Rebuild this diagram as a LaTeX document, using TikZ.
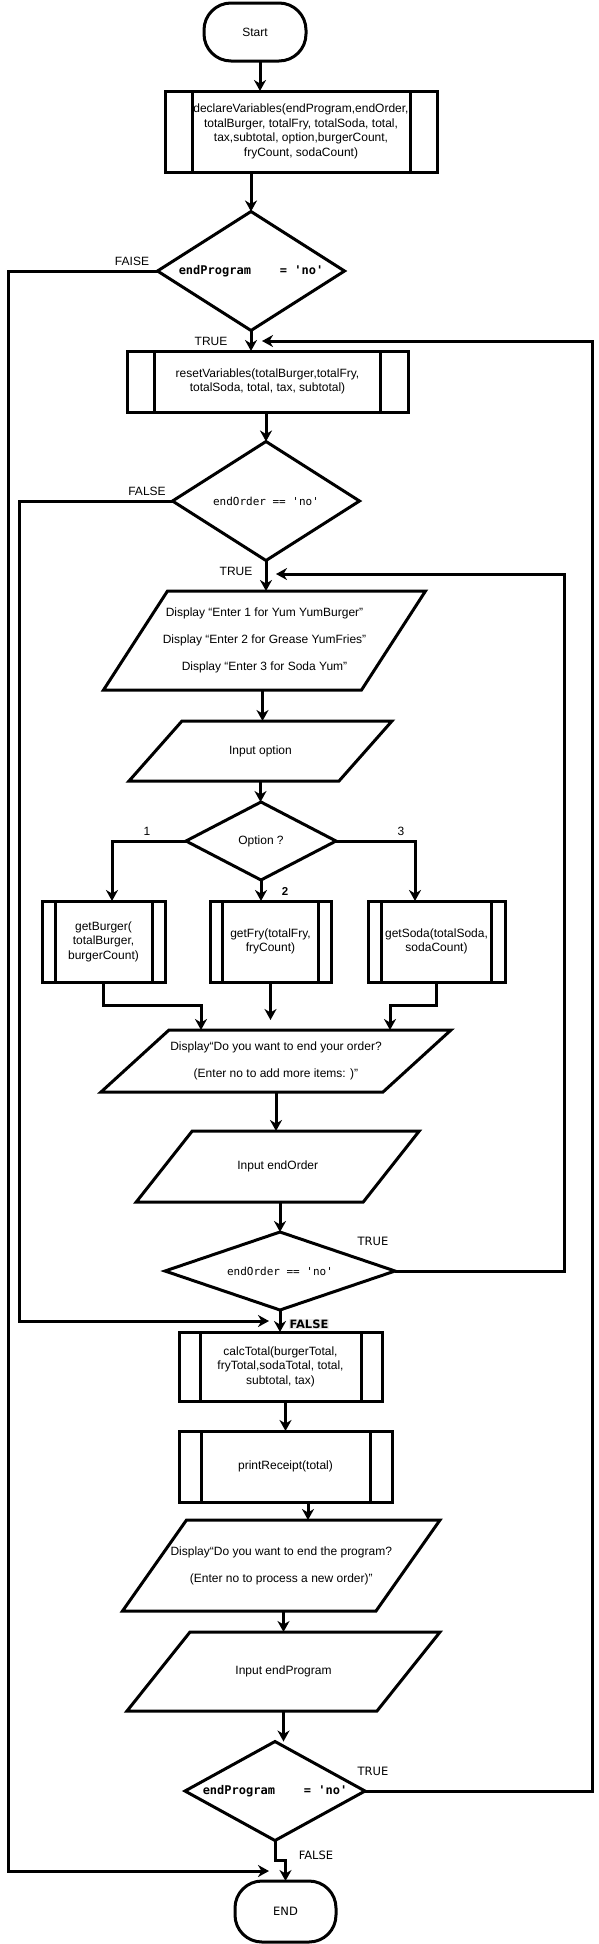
\documentclass[tikz,border=0pt]{standalone}
\usepackage{fontspec}
\setmainfont{Liberation Sans}
\setmonofont{DejaVu Sans Mono}
\newfontfamily\dvs{DejaVu Sans}
\usetikzlibrary{arrows.meta,shapes.geometric,calc}
\newcommand\subr[2]{\draw[ln] ([xshift=#2]#1.north west) -- ([xshift=#2]#1.south west); \draw[ln] ([xshift=-#2]#1.north east) -- ([xshift=-#2]#1.south east);}
\newcommand\paral[2]{\draw[ln] ([xshift=#2]#1.north west) -- ([xshift=#2]#1.north east) -- ([xshift=-#2]#1.south east) -- ([xshift=-#2]#1.south west) -- cycle;}
\begin{document}
\begin{tikzpicture}[x=1pt,y=-1pt,
  every node/.style={font=\fontsize{12}{14.5}\selectfont, outer sep=0pt},
  ln/.style={line width=3pt},
  arr/.style={ln, -{Stealth[length=11pt,width=12pt,inset=3.5pt]}},
  term/.style={draw, line width=3pt, rectangle, rounded corners=27pt, inner sep=0pt},
  box/.style={draw, line width=3pt, rectangle, inner sep=0pt, align=center},
  para/.style={rectangle, inner sep=0pt, align=center},
  dia/.style={draw, line width=3pt, diamond, inner sep=0pt},
  lbl/.style={inner sep=0pt},
  dlbl/.style={inner sep=0pt, font=\dvs\fontsize{11.5}{14}\selectfont},
  mono/.style={font=\ttfamily\fontsize{11}{13}\selectfont},
  monob/.style={font=\ttfamily\bfseries\fontsize{12}{14}\selectfont}]
\useasboundingbox (0,0) rectangle (599,1944);

% nodes
\node[term, minimum width=102pt, minimum height=58pt] (start) at (255,32) {Start};
\node[box, minimum width=272pt, minimum height=81pt] (decl) at (301,131.5) {declareVariables(endProgram,endOrder,\\totalBurger, totalFry, totalSoda, total,\\tax,subtotal, option,burgerCount,\\fryCount, sodaCount)};
\subr{decl}{27pt}
\node[dia, aspect=1.57, minimum width=187pt, minimum height=119pt, monob] (dia1) at (251,271) {endProgram\ \ \ \ = 'no'};
\node[box, minimum width=281pt, minimum height=61pt] (reset) at (267.5,381.5) {resetVariables(totalBurger,totalFry,\\totalSoda, total, tax, subtotal)};
\subr{reset}{27.5pt}
\node[dia, aspect=1.57, minimum width=187pt, minimum height=119pt, mono] (dia2) at (266,501) {endOrder == 'no'};
\node[para, minimum width=258pt, minimum height=99pt] (d1) at (264.5,640.5) {Display “Enter 1 for Yum YumBurger”\\[12.5pt]Display “Enter 2 for Grease YumFries”\\[12.5pt]Display “Enter 3 for Soda Yum”};
\paral{d1}{32pt}
\node[para, minimum width=210pt, minimum height=60pt] (inopt) at (260.5,751) {Input option};
\paral{inopt}{26.5pt}
\node[dia, aspect=1.92, minimum width=150pt, minimum height=78pt] (opt) at (261,841) {Option ?};
\node[box, minimum width=123pt, minimum height=81pt] (gb) at (103.5,941.5) {getBurger(\\totalBurger,\\burgerCount)};
\subr{gb}{13pt}
\node[box, minimum width=121pt, minimum height=81pt] (gf) at (270.5,941.5) {getFry(totalFry,\\fryCount)};
\subr{gf}{12.5pt}
\node[box, minimum width=137pt, minimum height=81pt] (gs) at (436.5,941.5) {getSoda(totalSoda,\\sodaCount)};
\subr{gs}{13.5pt}
\node[para, minimum width=282pt, minimum height=62pt] (d2) at (276,1061) {Display“Do you want to end your order?\\[12.5pt](Enter no to add more items: )”};
\paral{d2}{34pt}
\node[para, minimum width=227pt, minimum height=71pt] (inord) at (277.75,1166.5) {Input endOrder};
\paral{inord}{28pt}
\node[dia, aspect=2.95, minimum width=230pt, minimum height=78pt, mono] (dia3) at (280,1271) {endOrder == 'no'};
\node[box, minimum width=203pt, minimum height=69pt] (calc) at (280.5,1366.5) {calcTotal(burgerTotal,\\fryTotal,sodaTotal, total,\\subtotal, tax)};
\subr{calc}{21pt}
\node[box, minimum width=213pt, minimum height=71pt] (print) at (285.5,1466.5) {printReceipt(total)};
\subr{print}{22pt}
\node[para, minimum width=253.5pt, minimum height=91pt] (d3) at (281.25,1565.5) {Display“Do you want to end the program?\\[12.5pt](Enter no to process a new order)”};
\paral{d3}{32pt}
\node[para, minimum width=250pt, minimum height=79pt] (inprog) at (283.5,1671.5) {Input endProgram};
\paral{inprog}{31.5pt}
\node[dia, aspect=1.82, minimum width=180pt, minimum height=99pt, monob] (dia4) at (275,1791) {endProgram\ \ \ \ = 'no'};
\node[term, minimum width=101pt, minimum height=61pt, font=\dvs\fontsize{11.5}{14}\selectfont] (end) at (285.5,1911.5) {END};

% free ends of loop arrows
\coordinate (in1) at (262,341);
\coordinate (loop2) at (276,574);
\coordinate (in2) at (269,1321);
\coordinate (in3) at (269,1871);

% connectors
\draw[arr] ([xshift=5pt]start.south) -- ([xshift=-41pt]decl.north);
\draw[arr] ([xshift=-50pt]decl.south) -- (dia1.north);
\draw[arr] (dia1.south) -- ([xshift=-16.5pt]reset.north);
\draw[arr] ([xshift=-1.5pt]reset.south) -- (dia2.north);
\draw[arr] (dia2.south) -- (dia2.south |- d1.north);
\draw[arr] ([xshift=-2pt]d1.south) -- ([xshift=2pt]inopt.north);
\draw[arr] (inopt.south) -- (inopt.south |- opt.north);
\draw[arr] (opt.west) -| ([xshift=8.5pt]gb.north);
\draw[arr] (opt.south) -- (opt.south |- gf.north);
\draw[arr] (opt.east) -| ([xshift=-21.5pt]gs.north);
\draw[arr] (gb.south) -- ++(0,23) -| ([xshift=-75pt]d2.north);
\draw[arr] (gf.south) -- ++(0,38);
\draw[arr] (gs.south) -- ++(0,23) -| ([xshift=114pt]d2.north);
\draw[arr] (d2.south) -- (d2.south |- inord.north);
\draw[arr] (dia3.north |- inord.south) -- (dia3.north);
\draw[arr] (dia3.east) -- ++(169,0) |- (loop2);
\draw[arr] (dia3.south) -- (dia3.south |- calc.north);
\draw[arr] (dia2.west) -- ++(-153.5,0) |- (in2);
\draw[arr] (print.north |- calc.south) -- (print.north);
\draw[arr] ([xshift=22.5pt]print.south) -- ([xshift=26.75pt]d3.north);
\draw[arr] (inprog.north |- d3.south) -- (inprog.north);
\draw[arr] (inprog.south) -- (inprog.south |- dia4.north);
\draw[arr] (dia4.south) -- ++(0,20) -| (end.north);
\draw[arr] (dia4.east) -- ++(227,0) |- (in1);
\draw[arr] (dia1.west) -- ++(-149,0) |- (in3);

% labels
\node[lbl] (l1) at (132,261) {FAISE};
\node[lbl] (l2) at (211,341) {TRUE};
\node[lbl] (l3) at (147,491) {FALSE};
\node[lbl] (l4) at (236,571) {TRUE};
\node[lbl] (l5) at (147,831) {1};
\node[lbl] (l6) at (401,831) {3};
\node[lbl, font=\bfseries\fontsize{11.5}{14}\selectfont] (l7) at (285,891) {2};
\node[dlbl] (l8) at (373,1241) {TRUE};
\node[dlbl, font=\dvs\bfseries\fontsize{11.5}{14}\selectfont, fill=black!8, inner sep=1pt] (l9) at (309,1324) {FALSE};
\node[dlbl] (l10) at (373,1771) {TRUE};
\node[dlbl] (l11) at (316,1855) {FALSE};
\end{tikzpicture}
\end{document}
